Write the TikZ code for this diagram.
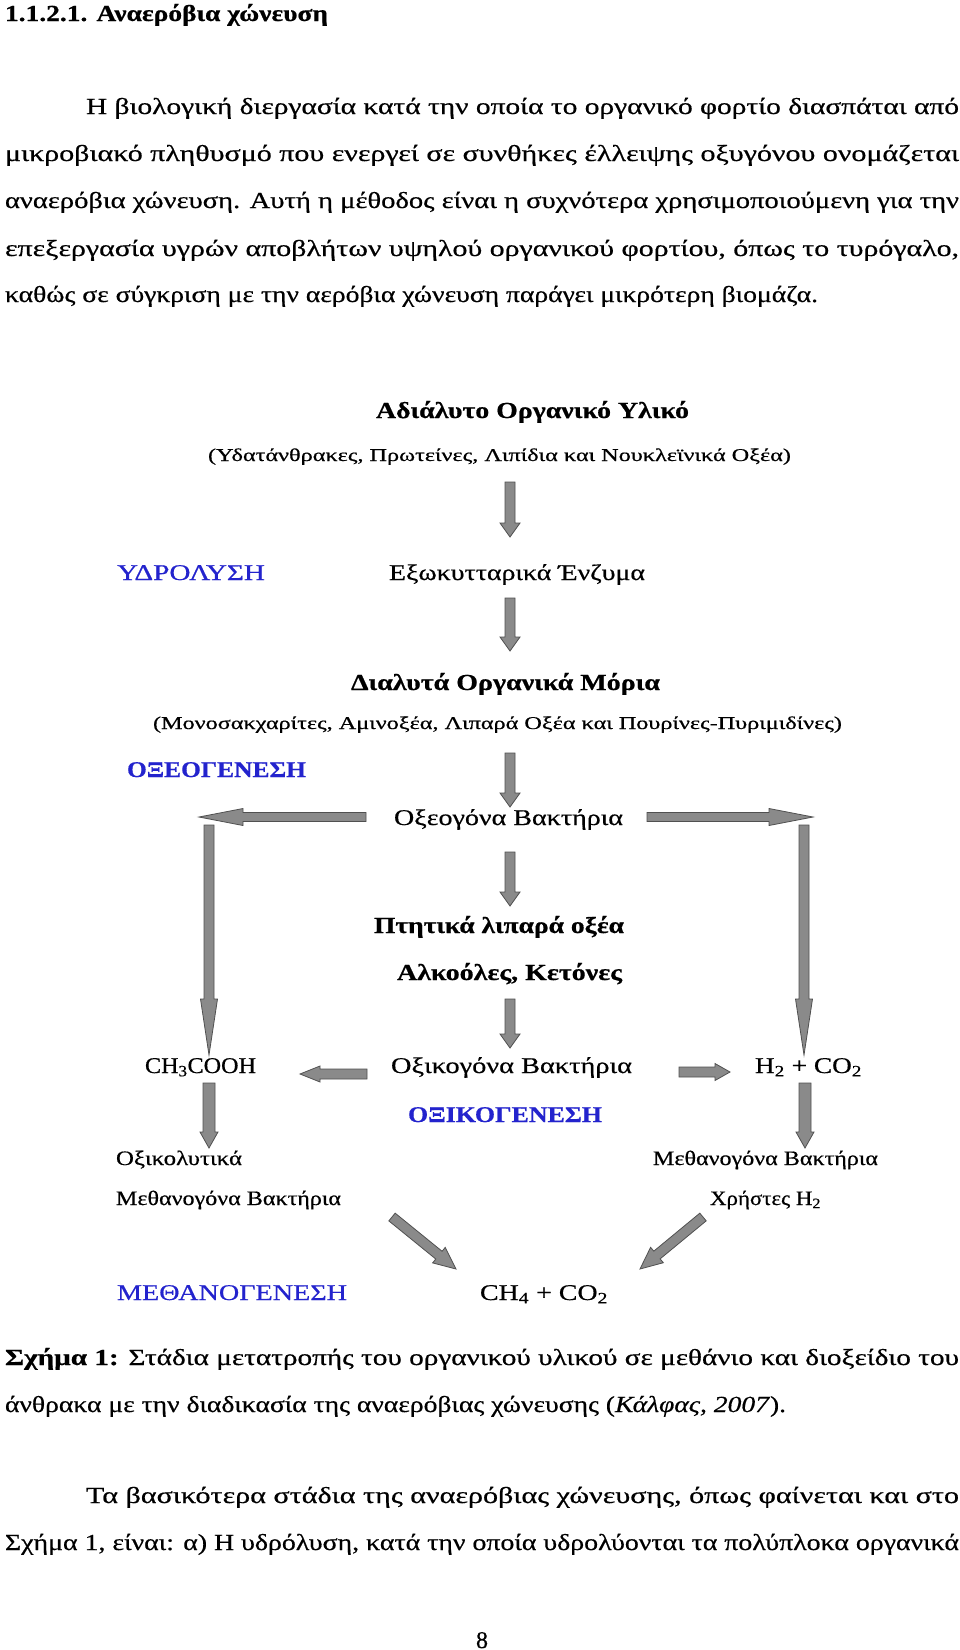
\documentclass[tikz,border=0pt]{standalone}
\usepackage{fontspec}
\setmainfont{Liberation Serif}[FakeBold=0.5]
\usepackage{graphicx}
\usetikzlibrary{calc}
\definecolor{stageblue}{RGB}{35,35,205}
\definecolor{arrfill}{RGB}{138,138,138}
\definecolor{arrline}{RGB}{80,80,80}
\newcommand{\fw}[2]{\resizebox{#1pt}{\height}{#2}}
\newcommand{\blockarr}[5]{%
  \coordinate (bh) at ($(#2)!#5pt!(#1)$);
  \filldraw[barrow] ($(#1)!#3pt!90:(#2)$) -- ($(bh)!#3pt!90:(#2)$) -- ($(bh)!#4pt!90:(#2)$) -- (#2)
    -- ($(bh)!#4pt!-90:(#2)$) -- ($(bh)!#3pt!-90:(#2)$) -- ($(#1)!#3pt!-90:(#2)$) -- cycle;}
\begin{document}
\begin{tikzpicture}[x=1pt,y=-1pt,
  txt/.style={inner sep=0pt, outer sep=0pt, anchor=base west},
  body/.style={txt, font=\fontsize{23}{27}\selectfont},
  dg/.style={txt, font=\fontsize{22.5}{26}\selectfont},
  dgb/.style={txt, font=\fontsize{23}{27}\selectfont\bfseries},
  dgs/.style={txt, font=\fontsize{20.5}{24}\selectfont},
  sub/.style={txt, font=\fontsize{18}{22}\selectfont},
  stage/.style={txt, text=stageblue, font=\fontsize{22.5}{26}\selectfont},
  stageb/.style={txt, text=stageblue, font=\fontsize{22.5}{26}\selectfont\bfseries},
  barrow/.style={fill=arrfill, draw=arrline, line width=0.8pt, line join=miter}]
\fill[white] (0,0) rectangle (960,1650);
\useasboundingbox (0,0) rectangle (960,1650);

% ---------- text above the figure ----------
\node[txt, font=\fontsize{23}{27}\selectfont\bfseries] (head) at (5,21) {\fw{323}{1.1.2.1. Αναερόβια χώνευση}};
\node[body] (l1) at (86,114) {\fw{873}{Η βιολογική διεργασία κατά την οποία το οργανικό φορτίο διασπάται από}};
\node[body] (l2) at (5,161) {\fw{954}{μικροβιακό πληθυσμό που ενεργεί σε συνθήκες έλλειψης οξυγόνου ονομάζεται}};
\node[body] (l3) at (5,208) {\fw{954}{αναερόβια χώνευση. Αυτή η μέθοδος είναι η συχνότερα χρησιμοποιούμενη για την}};
\node[body] (l4) at (5,256) {\fw{954}{επεξεργασία υγρών αποβλήτων υψηλού οργανικού φορτίου, όπως το τυρόγαλο,}};
\node[body] (l5) at (5,302) {\fw{813}{καθώς σε σύγκριση με την αερόβια χώνευση παράγει μικρότερη βιομάζα.}};

% ---------- figure texts ----------
\node[dgb] (insol) at (376,418) {\fw{313}{Αδιάλυτο Οργανικό Υλικό}};
\node[sub] (insolsub) at (208,461) {\fw{583}{(Υδατάνθρακες, Πρωτείνες, Λιπίδια και Νουκλεϊνικά Οξέα)}};
\node[stage] (hydro) at (117,580) {\fw{148}{ΥΔΡΟΛΥΣΗ}};
\node[dg] (enz) at (389,580) {\fw{256}{Εξωκυτταρικά Ένζυμα}};
\node[dgb] (sol) at (351,690) {\fw{309}{Διαλυτά Οργανικά Μόρια}};
\node[sub] (solsub) at (153,729) {\fw{689}{(Μονοσακχαρίτες, Αμινοξέα, Λιπαρά Οξέα και Πουρίνες-Πυριμιδίνες)}};
\node[stageb] (acido) at (127,777) {\fw{179}{ΟΞΕΟΓΕΝΕΣΗ}};
\node[dg] (acidbac) at (394,825) {\fw{229}{Οξεογόνα Βακτήρια}};
\node[dgb] (vfa) at (374,933) {\fw{250}{Πτητικά λιπαρά οξέα}};
\node[dgb] (alc) at (397,980) {\fw{225}{Αλκοόλες, Κετόνες}};
\node[dg] (acet) at (145,1073) {\fw{111}{CH\textsubscript{3}COOH}};
\node[dg] (acetbac) at (391,1073) {\fw{241}{Οξικογόνα Βακτήρια}};
\node[dg] (hco) at (755,1073) {\fw{107}{H\textsubscript{2} + CO\textsubscript{2}}};
\node[stageb] (aceto) at (408,1122) {\fw{194}{ΟΞΙΚΟΓΕΝΕΣΗ}};
\node[dgs] (acl) at (116,1165) {\fw{126}{Οξικολυτικά}};
\node[dgs] (methr) at (653,1165) {\fw{225}{Μεθανογόνα Βακτήρια}};
\node[dgs] (methl) at (116,1205) {\fw{225}{Μεθανογόνα Βακτήρια}};
\node[dgs] (huse) at (710,1205) {\fw{111}{Χρήστες H\textsubscript{2}}};
\node[stage] (metha) at (117,1300) {\fw{230}{ΜΕΘΑΝΟΓΕΝΕΣΗ}};
\node[dg] (ch4) at (480,1300) {\fw{128}{CH\textsubscript{4} + CO\textsubscript{2}}};

% ---------- arrows ----------
\coordinate (a1s) at (510,482);  \coordinate (a1e) at (510,537);
\coordinate (a2s) at (510,598);  \coordinate (a2e) at (510,651);
\coordinate (a3s) at (510,753);  \coordinate (a3e) at (510,807);
\coordinate (a4s) at (510,852);  \coordinate (a4e) at (510,906);
\coordinate (a5s) at (510,999);  \coordinate (a5e) at (510,1048);
\blockarr{a1s}{a1e}{5}{10}{14}
\blockarr{a2s}{a2e}{5}{10}{14}
\blockarr{a3s}{a3e}{5}{10}{14}
\blockarr{a4s}{a4e}{5}{10}{14}
\blockarr{a5s}{a5e}{5}{10}{14}

\coordinate (hls) at (366,817);  \coordinate (hle) at (199,817);
\coordinate (hrs) at (647,817);  \coordinate (hre) at (813,817);
\blockarr{hls}{hle}{4.5}{8.5}{44}
\blockarr{hrs}{hre}{4.5}{8.5}{44}

\coordinate (vls) at (209,825);  \coordinate (vle) at (209,1055);
\coordinate (vrs) at (804,825);  \coordinate (vre) at (804,1055);
\blockarr{vls}{vle}{5}{8.5}{56}
\blockarr{vrs}{vre}{5}{8.5}{56}

\coordinate (sls) at (367,1074); \coordinate (sle) at (300,1074);
\coordinate (srs) at (679,1072); \coordinate (sre) at (730,1072);
\blockarr{sls}{sle}{5}{8}{20}
\blockarr{srs}{sre}{5}{8.5}{15}

\coordinate (wls) at (209,1083); \coordinate (wle) at (209,1148);
\coordinate (wrs) at (805,1083); \coordinate (wre) at (805,1148);
\blockarr{wls}{wle}{6}{9}{16}
\blockarr{wrs}{wre}{6}{9}{16}

\coordinate (dls) at (392,1217); \coordinate (dle) at (456,1269);
\coordinate (drs) at (703,1217); \coordinate (dre) at (640,1269);
\blockarr{dls}{dle}{5}{10}{22}
\blockarr{drs}{dre}{5}{10}{22}

% ---------- caption and following text ----------
\node[body] (cap1) at (5,1365) {\fw{954}{\textbf{Σχήμα 1:} Στάδια μετατροπής του οργανικού υλικού σε μεθάνιο και διοξείδιο του}};
\node[body] (cap2) at (5,1412) {\fw{781}{άνθρακα με την διαδικασία της αναερόβιας χώνευσης (\textit{Κάλφας, 2007}).}};
\node[body] (p1) at (86,1503) {\fw{873}{Τα βασικότερα στάδια της αναερόβιας χώνευσης, όπως φαίνεται και στο}};
\node[body] (p2) at (5,1550) {\fw{954}{Σχήμα 1, είναι: α) Η υδρόλυση, κατά την οποία υδρολύονται τα πολύπλοκα οργανικά}};
\node[txt, anchor=base, font=\fontsize{24}{27}\selectfont] (pg) at (482,1648) {8};
\end{tikzpicture}
\end{document}
